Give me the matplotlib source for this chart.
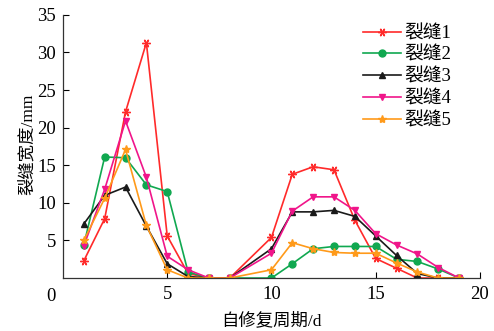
# Crack width during self-healing period
import matplotlib.pyplot as plt
import numpy as np

plt.rcParams['font.family'] = ['Liberation Serif', 'Noto Sans CJK SC']

days = [1, 2, 3, 4, 5, 6, 7, 8, 10, 11, 12, 13, 14, 15, 16, 17, 18, 19]

crack1 = [2.3, 7.9, 22.1, 31.3, 5.6, 0.6, 0, 0, 5.4, 13.8, 14.8, 14.4, 7.7, 2.6, 1.3, 0, 0, 0]
crack2 = [4.4, 16.1, 16.0, 12.4, 11.5, 0.8, 0, 0, 0, 1.9, 3.9, 4.2, 4.2, 4.2, 2.5, 2.2, 1.2, 0]
crack3 = [7.2, 11.0, 12.1, 6.9, 1.9, 0.2, 0, 0, 3.9, 8.8, 8.8, 9.0, 8.2, 5.6, 3.0, 0.6, 0, 0]
crack4 = [4.3, 11.8, 20.9, 13.4, 2.9, 1.1, 0, 0, 3.3, 8.9, 10.8, 10.8, 9.0, 5.9, 4.4, 3.2, 1.4, 0]
crack5 = [5.0, 10.6, 17.1, 7.0, 1.1, 0, 0, 0, 1.1, 4.7, 3.9, 3.4, 3.3, 3.3, 2.0, 0.8, 0, 0]

series = [crack1, crack2, crack3, crack4, crack5]
names = ['裂缝1', '裂缝2', '裂缝3', '裂缝4', '裂缝5']
colors = ['#ff2a2a', '#10a850', '#1a1a1a', '#f0158a', '#ff9a1a']
markers = [(6, 2, 90), 'o', '^', 'v', '*']
sizes = [6, 5, 4.5, 5, 6]

fig = plt.figure(figsize=(4.94, 3.31), dpi=100)
ax = fig.add_axes([0.1275, 0.16, 0.844, 0.795])

for y, name, c, m, s in zip(series, names, colors, markers, sizes):
    ax.plot(days, y, color=c, marker=m, markersize=s, linewidth=1.2,
            markeredgewidth=1.0, label=name)

ax.set_xlim(0, 20)
ax.set_ylim(0, 35)
ax.set_xticks([5, 10, 15, 20])
ax.set_yticks([5, 10, 15, 20, 25, 30, 35])
ax.tick_params(direction='in', length=4, width=0.8, labelsize=13.5)
ax.tick_params(axis='x', pad=6)
ax.tick_params(axis='y', pad=5)
ax.spines['top'].set_visible(False)
ax.spines['right'].set_visible(False)
for sp in ['left', 'bottom']:
    ax.spines[sp].set_linewidth(0.9)
    ax.spines[sp].set_color('#333333')

# shared zero at the corner
ax.text(-0.6, -2.4, '0', ha='center', va='center', fontsize=13.5)

ax.set_xlabel('自修复周期/d', fontsize=12.5)
ax.set_ylabel('裂缝宽度/mm', fontsize=12.5)
ax.xaxis.set_label_coords(0.5, -0.13)
ax.yaxis.set_label_coords(-0.065, 0.51)

ax.legend(loc='upper right', bbox_to_anchor=(0.95, 0.99), frameon=False,
          fontsize=13.5, handlelength=2.0, handletextpad=0.2,
          labelspacing=0.25, borderaxespad=0.0)

fig.savefig('out.png', dpi=100)
